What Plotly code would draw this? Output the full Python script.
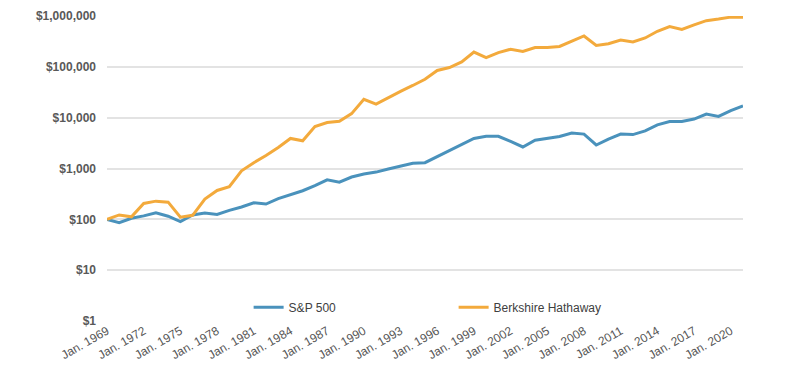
import plotly.graph_objects as go

years = list(range(1969, 2022))
sp500 = [100, 86, 105, 117, 135, 115, 90, 122, 133, 125, 150, 175, 212, 200, 255,
         305, 365, 460, 600, 540, 680, 780, 850, 980, 1100, 1270, 1300, 1700, 2200,
         2900, 3900, 4300, 4300, 3400, 2650, 3600, 3900, 4250, 5000, 4750, 2900,
         3800, 4750, 4650, 5500, 7200, 8400, 8400, 9400, 11800, 10600, 13800, 17000]
berkshire = [100, 122, 112, 205, 228, 218, 110, 120, 250, 370, 440, 900, 1300, 1800,
             2600, 3900, 3500, 6700, 8000, 8500, 12000, 23000, 18500, 25000, 33000,
             43000, 57000, 85000, 97000, 125000, 195000, 152000, 190000, 222000,
             200000, 240000, 240000, 252000, 315000, 405000, 263000, 285000, 335000,
             308000, 370000, 500000, 620000, 545000, 670000, 810000, 870000, 950000,
             950000]
tick_years = list(range(1969, 2021, 3))
tick_text = [f"Jan. {y}" for y in tick_years]
y_vals = [1, 10, 100, 1000, 10000, 100000, 1000000]
y_text = ["$1", "$10", "$100", "$1,000", "$10,000", "$100,000", "$1,000,000"]

fig = go.Figure()
fig.add_trace(go.Scatter(x=years, y=sp500, mode="lines", name="S&P 500",
                         line=dict(color="#4A92BC", width=3)))
fig.add_trace(go.Scatter(x=years, y=berkshire, mode="lines", name="Berkshire Hathaway",
                         line=dict(color="#F3AA3C", width=3)))

fig.update_layout(
    width=784, height=359,
    margin=dict(l=99, r=49, t=8, b=46),
    paper_bgcolor="white", plot_bgcolor="white",
    font=dict(family="Liberation Sans, Arial, sans-serif", color="#595959"),
    showlegend=True,
    legend=dict(orientation="h", x=0.545, xanchor="center", y=0.045, yanchor="middle",
                font=dict(size=12, color="#404040"), entrywidth=160,
                bgcolor="rgba(255,255,255,0)"),
    xaxis=dict(range=[1969, 2021], tickvals=tick_years, ticktext=tick_text,
               tickangle=-30, tickfont=dict(size=12, color="#555555"),
               showgrid=False, zeroline=False, showline=False, ticks="",
               automargin=False),
    yaxis=dict(type="log", range=[0, 6], tickvals=y_vals, ticktext=y_text,
               tickfont=dict(size=12, color="#595959", family="Liberation Sans, Arial, sans-serif", weight="bold"),
               showgrid=True, gridcolor="#E3E3E3", gridwidth=2,
               zeroline=False, showline=False, ticks="", ticklabelstandoff=10,
               automargin=False),
)

fig.write_html("out.html")
